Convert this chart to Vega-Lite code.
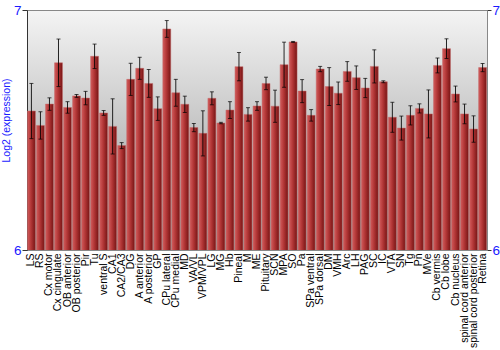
{
  "$schema": "https://vega.github.io/schema/vega-lite/v6.json",
  "width": 460,
  "height": 240,
  "autosize": "none",
  "padding": {"left": 27, "top": 10, "right": 13, "bottom": 100},
  "background": "white",
  "config": {
    "font": "Liberation Sans",
    "view": {
      "stroke": "#888888",
      "strokeWidth": 1,
      "fill": {"gradient": "linear", "x1": 0, "y1": 0, "x2": 0, "y2": 1, "stops": [{"offset": 0, "color": "#f4f4f4"}, {"offset": 0.5, "color": "#c4c4c4"}, {"offset": 1, "color": "#9a9a9a"}]}
    }
  },
  "data": {
    "values": [
      {"name": "LS", "value": 6.579, "err": 0.115},
      {"name": "RS", "value": 6.519, "err": 0.057},
      {"name": "Cx motor", "value": 6.608, "err": 0.026},
      {"name": "Cx cingulate", "value": 6.78, "err": 0.099},
      {"name": "OB anterior", "value": 6.594, "err": 0.024},
      {"name": "OB posterior", "value": 6.642, "err": 0.006},
      {"name": "Pir", "value": 6.633, "err": 0.028},
      {"name": "Tu", "value": 6.807, "err": 0.051},
      {"name": "ventral S", "value": 6.571, "err": 0.01},
      {"name": "CA1", "value": 6.515, "err": 0.115},
      {"name": "CA2/CA3", "value": 6.435, "err": 0.0125},
      {"name": "DG", "value": 6.711, "err": 0.067},
      {"name": "A anterior", "value": 6.757, "err": 0.046},
      {"name": "A posterior", "value": 6.694, "err": 0.058},
      {"name": "GP", "value": 6.589, "err": 0.049},
      {"name": "CPu lateral", "value": 6.921, "err": 0.035},
      {"name": "CPu medial", "value": 6.655, "err": 0.056},
      {"name": "MD", "value": 6.607, "err": 0.034},
      {"name": "VA/VL", "value": 6.51, "err": 0.017},
      {"name": "VPM/VPL", "value": 6.486, "err": 0.094},
      {"name": "LG", "value": 6.632, "err": 0.027},
      {"name": "MG", "value": 6.529, "err": 0.003},
      {"name": "Hb", "value": 6.583, "err": 0.035},
      {"name": "Pineal", "value": 6.764, "err": 0.059},
      {"name": "M", "value": 6.565, "err": 0.028},
      {"name": "ME", "value": 6.6, "err": 0.018},
      {"name": "Pituitary", "value": 6.694, "err": 0.026},
      {"name": "SCN", "value": 6.599, "err": 0.067},
      {"name": "MPA", "value": 6.772, "err": 0.094},
      {"name": "SO", "value": 6.867, "err": 0.002},
      {"name": "Pa", "value": 6.662, "err": 0.048},
      {"name": "SPa ventral", "value": 6.561, "err": 0.024},
      {"name": "SPa dorsal", "value": 6.754, "err": 0.011},
      {"name": "DM", "value": 6.681, "err": 0.079},
      {"name": "VMH", "value": 6.653, "err": 0.047},
      {"name": "Arc", "value": 6.744, "err": 0.041},
      {"name": "LH", "value": 6.718, "err": 0.049},
      {"name": "PAG", "value": 6.675, "err": 0.04},
      {"name": "SC", "value": 6.765, "err": 0.069},
      {"name": "IC", "value": 6.701, "err": 0.004},
      {"name": "VTA", "value": 6.553, "err": 0.0625},
      {"name": "SN", "value": 6.508, "err": 0.05},
      {"name": "Tg", "value": 6.561, "err": 0.04},
      {"name": "Pn", "value": 6.59, "err": 0.019},
      {"name": "MVe", "value": 6.567, "err": 0.1},
      {"name": "Cb vermis", "value": 6.769, "err": 0.031},
      {"name": "Cb lobe", "value": 6.839, "err": 0.041},
      {"name": "Cb nucleus", "value": 6.65, "err": 0.033},
      {"name": "spinal cord anterior", "value": 6.567, "err": 0.041},
      {"name": "spinal cord posterior", "value": 6.504, "err": 0.055},
      {"name": "Retina", "value": 6.76, "err": 0.017}
    ]
  },
  "encoding": {
    "x": {
      "field": "name",
      "type": "nominal",
      "sort": null,
      "scale": {"paddingInner": 0.12, "paddingOuter": 0.05},
      "axis": {
        "title": null,
        "labelAngle": -90,
        "labelAlign": "right",
        "labelBaseline": "middle",
        "labelFontSize": 10.5,
        "labelColor": "#000000",
        "labelPadding": 3,
        "ticks": false,
        "domain": false,
        "labelOverlap": false,
        "labelLimit": 120
      }
    }
  },
  "layer": [
    {
      "mark": {
        "type": "bar",
        "clip": true,
        "stroke": "#c46a6a",
        "strokeWidth": 0.5,
        "color": {"gradient": "linear", "x1": 0, "y1": 0, "x2": 1, "y2": 0, "stops": [{"offset": 0, "color": "#d25c5c"}, {"offset": 0.45, "color": "#b23636"}, {"offset": 1, "color": "#761414"}]}
      },
      "encoding": {
        "y": {
          "field": "value",
          "type": "quantitative",
          "scale": {"domain": [6, 7], "zero": false, "nice": false},
          "axis": {
            "orient": "left",
            "values": [6, 7],
            "format": "d",
            "title": "Log2 (expression)",
            "titleColor": "#1a1aff",
            "titleFontSize": 10.5,
            "titleFontWeight": "normal",
            "titlePadding": 2,
            "titleY": 110,
            "labelColor": "#1a1aff",
            "labelFontSize": 13.5,
            "labelPadding": 1,
            "tickSize": 5,
            "tickColor": "#333333",
            "domainColor": "#333333",
            "grid": false
          }
        }
      }
    },
    {
      "mark": {"type": "errorbar", "ticks": {"size": 4, "color": "#000000"}, "rule": {"color": "#000000", "opacity": 0.85}, "color": "#000000", "thickness": 1},
      "encoding": {
        "y": {"field": "value", "type": "quantitative", "axis": null},
        "yError": {"field": "err"}
      }
    },
    {
      "mark": {"type": "tick", "opacity": 0},
      "encoding": {
        "y": {
          "field": "value",
          "type": "quantitative",
          "axis": {
            "orient": "right",
            "values": [6, 7],
            "format": "d",
            "title": null,
            "labelColor": "#1a1aff",
            "labelFontSize": 13.5,
            "labelPadding": 1,
            "tickSize": 4,
            "tickColor": "#333333",
            "domainColor": "#888888",
            "grid": false
          }
        }
      }
    }
  ],
  "resolve": {"scale": {"y": "shared"}, "axis": {"y": "independent"}}
}
